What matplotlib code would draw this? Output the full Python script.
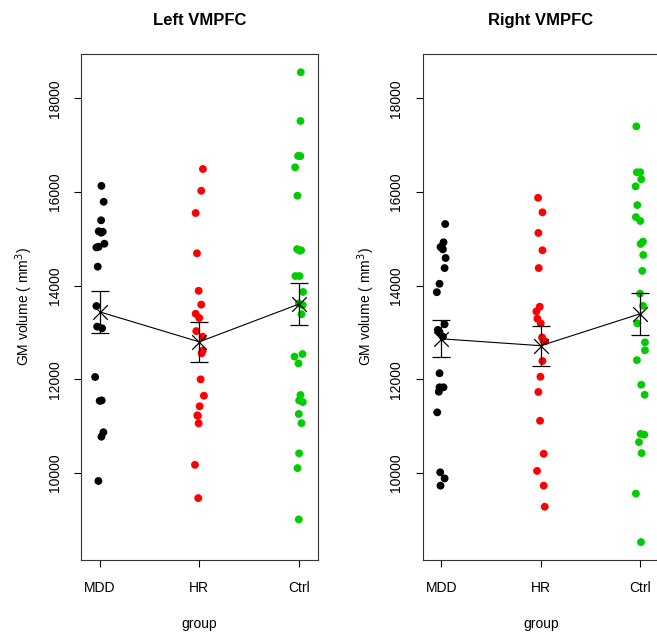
import matplotlib
matplotlib.use("Agg")
import matplotlib.pyplot as plt

plt.rcParams['font.family'] = ['Liberation Sans', 'DejaVu Sans']

groups = ["MDD", "HR", "Ctrl"]
colors = ["black", "#FF0000", "#00CD00"]

# left VMPFC volumes (mm3) and jitter offsets
left_mdd = [16130, 15790, 15395, 15160, 15130, 15150, 14895, 14815, 14830, 14405,
            13565, 13125, 13090, 12050, 11540, 11550, 10870, 10775, 9830]
left_mdd_jit = [0.017, 0.04, 0.014, -0.01, 0.014, 0.03, 0.047, -0.033, -0.01, -0.02,
                -0.033, -0.026, 0.024, -0.046, 0.0, 0.02, 0.037, 0.017, -0.013]
left_hr = [16490, 16025, 15550, 14690, 13890, 13595, 13400, 13310, 13030, 12910,
           12610, 12555, 12000, 11650, 11425, 11230, 11220, 11060, 10175, 9465]
left_hr_jit = [0.037, 0.02, -0.036, -0.023, -0.006, 0.02, -0.036, 0.0, -0.03, 0.034,
               0.034, 0.024, 0.014, 0.047, 0.004, -0.02, -0.013, -0.006, -0.043, -0.01]
left_ctrl = [18555, 17515, 16770, 16765, 16525, 15920, 14780, 14745, 14755, 14205,
             14205, 13865, 13620, 13585, 13390, 12485, 12540, 12340, 11665, 11550,
             11515, 11260, 11065, 10420, 10105, 9010]
left_ctrl_jit = [0.02, 0.017, -0.007, 0.016, -0.037, -0.014, -0.017, 0.01, 0.023, -0.034,
                 0.007, 0.043, 0.0, 0.04, 0.027, -0.043, 0.037, -0.003, 0.017, 0.003,
                 0.04, 0.0, 0.027, 0.003, -0.013, 0.0]
left_mean = [13440, 12800, 13605]
left_se = [444, 420, 441]

# right VMPFC
right_mdd = [15315, 14925, 14825, 14775, 14810, 14590, 14375, 14040, 13860, 13175,
             13055, 13005, 12910, 12130, 11830, 11830, 11735, 11295, 10015, 9885, 9730]
right_mdd_jit = [0.04, 0.023, -0.007, 0.017, 0.01, 0.044, 0.034, -0.017, -0.044, 0.034,
                 -0.034, -0.017, 0.017, -0.017, -0.017, 0.023, -0.024, -0.04, -0.01, 0.034, -0.007]
right_hr = [15875, 15565, 15125, 14755, 14375, 13550, 13450, 13295, 13195, 12895,
            12810, 12825, 12390, 12055, 11730, 11115, 10410, 10045, 9730, 9280]
right_hr_jit = [-0.027, 0.017, -0.024, 0.017, -0.02, -0.01, -0.044, -0.034, 0.0, 0.013,
                0.044, 0.027, 0.017, -0.003, -0.024, -0.007, 0.03, -0.037, 0.03, 0.04]
right_ctrl = [17400, 16420, 16420, 16270, 16120, 15720, 15465, 15380, 14940, 14890,
              14655, 14315, 13830, 13570, 13195, 12790, 12620, 12410, 11885, 11670,
              10835, 10820, 10660, 10425, 9560, 8525]
right_ctrl_jit = [-0.04, -0.034, 0.0, 0.01, -0.047, -0.03, -0.044, 0.0, 0.027, 0.003,
                  0.03, 0.02, -0.003, 0.027, -0.03, 0.047, 0.047, -0.034, 0.01, 0.044,
                  0.003, 0.04, -0.013, 0.013, -0.044, 0.007]
right_mean = [12865, 12718, 13400]
right_se = [391, 427, 445]

yticks = [10000, 12000, 14000, 16000, 18000]

W, H = 657, 635
fig = plt.figure(figsize=(W / 100, H / 100), dpi=100)


def panel(left_px, title, vals, jits, means, ses):
    ax = fig.add_axes([left_px / W, (H - 560) / H, 236.5 / W, 506 / H])
    for i, (v, j) in enumerate(zip(vals, jits)):
        xs = [i + 1 + d for d in j]
        ax.scatter(xs, v, s=32, color=colors[i], edgecolors='none', zorder=2)
    xpos = [1, 2, 3]
    ax.plot(xpos, means, color='black', lw=0.8, zorder=3)
    ax.errorbar(xpos, means, yerr=ses, fmt='none', ecolor='black',
                elinewidth=0.9, capsize=6.5, capthick=0.9, zorder=3)
    ax.scatter(xpos, means, marker='x', s=110, color='black', linewidths=0.9, zorder=4)
    ax.set_xlim(0.812, 3.188)
    ax.set_ylim(8143, 18945)
    ax.set_xticks(xpos)
    ax.set_xticklabels(groups)
    ax.set_yticks(yticks)
    ax.set_yticklabels([str(t) for t in yticks], rotation=90, va='center')
    ax.tick_params(length=5, width=0.8, labelsize=10)
    ax.tick_params(axis='x', pad=10)
    ax.tick_params(axis='y', pad=9)
    for s in ax.spines.values():
        s.set_linewidth(0.8)
        s.set_color('#333333')
    ax.set_xlabel("group", fontsize=10, labelpad=16)
    ax.set_ylabel("GM volume ( mm$^3$)", fontsize=10, labelpad=9)
    ax.set_title(title, fontsize=12, fontweight='bold', pad=21)
    return ax


panel(81, "Left VMPFC", [left_mdd, left_hr, left_ctrl],
      [left_mdd_jit, left_hr_jit, left_ctrl_jit], left_mean, left_se)
panel(422.5, "Right VMPFC", [right_mdd, right_hr, right_ctrl],
      [right_mdd_jit, right_hr_jit, right_ctrl_jit], right_mean, right_se)

fig.savefig("out.png", dpi=100)
